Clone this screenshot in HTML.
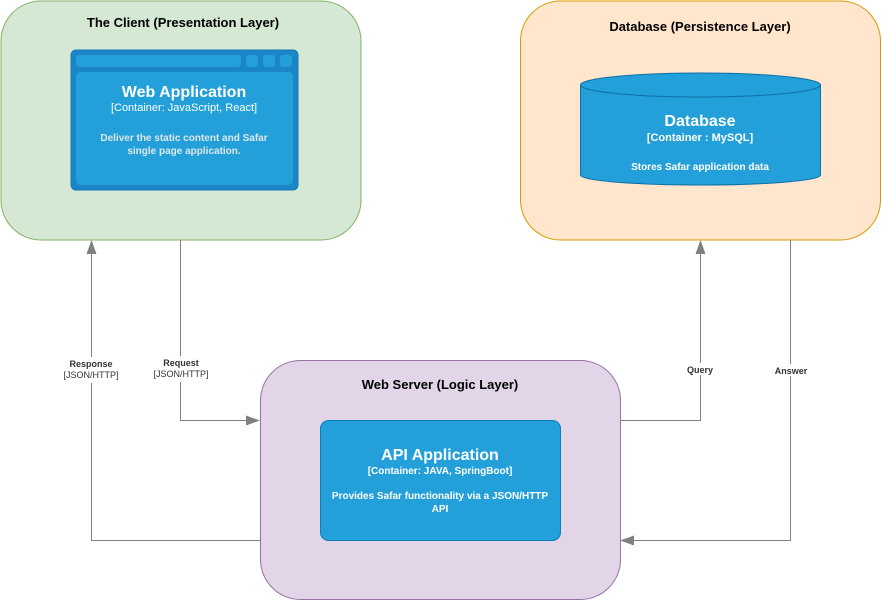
<!DOCTYPE html>
<html><head><style>body{margin:0;background:#fff}text{font-family:"Liberation Sans",Arial,sans-serif}</style></head>
<body>
<svg width="882" height="601" xmlns="http://www.w3.org/2000/svg">
<defs><marker id="a" markerWidth="14" markerHeight="10" refX="13" refY="5" orient="auto" markerUnits="userSpaceOnUse"><path d="M0,0 L14,5 L0,10 Z" fill="#808080"/></marker></defs>
<rect x="1" y="1" width="360" height="239" rx="40" fill="#d5e8d4" stroke="#82b366"/>
<rect x="520.5" y="1" width="360" height="239" rx="40" fill="#ffe6cc" stroke="#d79b00"/>
<rect x="260.5" y="360.5" width="360" height="239" rx="40" fill="#e1d5e7" stroke="#9673a6"/>
<text x="183" y="27" text-anchor="middle" font-size="13" font-weight="bold">The Client (Presentation Layer)</text>
<text x="700" y="31" text-anchor="middle" font-size="13" font-weight="bold">Database (Persistence Layer)</text>
<text x="440" y="389" text-anchor="middle" font-size="13" font-weight="bold">Web Server (Logic Layer)</text>
<rect x="71" y="50" width="227" height="140" rx="5" fill="#1a85c7" stroke="#1479b5"/>
<rect x="76" y="55" width="165" height="12" rx="3" fill="#23a0da"/>
<rect x="246" y="55" width="12" height="12" rx="3" fill="#23a0da"/>
<rect x="263" y="55" width="12" height="12" rx="3" fill="#23a0da"/>
<rect x="280" y="55" width="12" height="12" rx="3" fill="#23a0da"/>
<rect x="76" y="72" width="217" height="113" rx="5" fill="#23a0da"/>
<text x="184" y="97" text-anchor="middle" font-size="16" font-weight="bold" fill="#fff">Web Application</text>
<text x="184" y="111" text-anchor="middle" font-size="11" fill="#fff">[Container: JavaScript, React]</text>
<text x="184" y="141" text-anchor="middle" font-size="10" font-weight="bold" fill="#dde6ee">Deliver the static content and Safar</text>
<text x="184" y="154" text-anchor="middle" font-size="10" font-weight="bold" fill="#dde6ee">single page application.</text>
<path d="M580.5,85 L580.5,175 A120,10 0 0 0 820.5,175 L820.5,85" fill="#23a0da" stroke="#0e6fa8"/>
<ellipse cx="700.5" cy="85" rx="120" ry="12" fill="#23a0da" stroke="#0e6fa8"/>
<text x="700" y="126" text-anchor="middle" font-size="16" font-weight="bold" fill="#fff">Database</text>
<text x="700" y="141" text-anchor="middle" font-size="11" font-weight="bold" fill="#fff">[Container : MySQL]</text>
<text x="700" y="170" text-anchor="middle" font-size="10" font-weight="bold" fill="#fff">Stores Safar application data</text>
<rect x="320.5" y="420.5" width="240" height="120" rx="8" fill="#23a0da" stroke="#0e7db8"/>
<text x="440" y="460" text-anchor="middle" font-size="16" font-weight="bold" fill="#fff">API Application</text>
<text x="440" y="474" text-anchor="middle" font-size="10" font-weight="bold" fill="#fff">[Container: JAVA, SpringBoot]</text>
<text x="440" y="499" text-anchor="middle" font-size="10" font-weight="bold" fill="#fff">Provides Safar functionality via a JSON/HTTP</text>
<text x="440" y="512" text-anchor="middle" font-size="10" font-weight="bold" fill="#fff">API</text>
<g stroke="#808080" fill="none" stroke-width="1">
<path d="M260,540.5 H91.5 V241" marker-end="url(#a)"/>
<path d="M180.5,240 V420.5 H259" marker-end="url(#a)"/>
<path d="M620,420.5 H700.5 V241" marker-end="url(#a)"/>
<path d="M790.5,240 V540.5 H621" marker-end="url(#a)"/>
</g>
<g font-size="9" text-anchor="middle" fill="#333">
<rect x="58" y="357" width="66" height="26" fill="#fff"/>
<text x="91" y="367" font-weight="bold">Response</text><text x="91" y="378">[JSON/HTTP]</text>
<rect x="148" y="356" width="66" height="26" fill="#fff"/>
<text x="181" y="366" font-weight="bold">Request</text><text x="181" y="377">[JSON/HTTP]</text>
<rect x="682" y="363" width="36" height="12" fill="#fff"/>
<text x="700" y="373" font-weight="bold">Query</text>
<rect x="770" y="364" width="42" height="12" fill="#fff"/>
<text x="791" y="374" font-weight="bold">Answer</text>
</g>
</svg>
</body></html>
